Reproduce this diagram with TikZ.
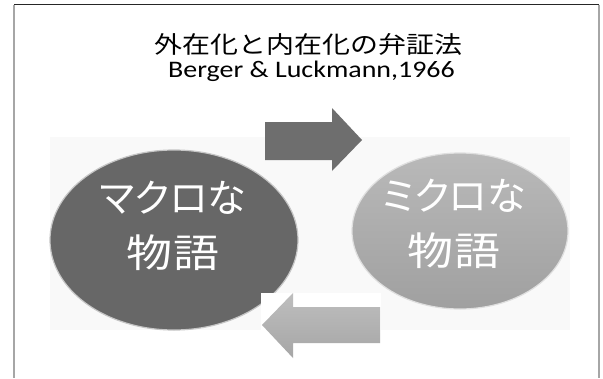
\documentclass[tikz,border=0pt]{standalone}
\usepackage{fontspec}
\usetikzlibrary{shapes.geometric}
\newfontfamily\jpfont[FakeStretch=1.18]{Noto Sans CJK JP}
\newfontfamily\jppropfont[FakeStretch=1.0, CharacterWidth=AlternateProportional]{Noto Sans CJK JP}
\newfontfamily\latfont[FakeStretch=1.18]{Carlito}
\definecolor{darkell}{HTML}{676767}
\definecolor{lightelltop}{HTML}{B9B9B9}
\definecolor{lightellbot}{HTML}{A0A0A0}
\definecolor{arrowdark}{HTML}{6E6E6E}
\definecolor{arrowlighttop}{HTML}{BEBEBE}
\definecolor{arrowlightbot}{HTML}{A6A6A6}
\definecolor{bgfaint}{HTML}{F9F9F9}
\tikzset{
  ellbox/.style={ellipse, inner sep=0pt},
  elltext/.style={text=white, align=center, font=\jpfont\fontsize{39}{55}\selectfont, inner sep=0pt},
  framepen/.style={line width=1.6pt},
}
\begin{document}
\begin{tikzpicture}[x={(1pt,0)}, y={(0,-1pt)}]
\useasboundingbox (0,0) rectangle (603,378);
\fill[white] (0,0) rectangle (603,378);
% faint picture background
\fill[bgfaint] (50,137) rectangle (570,330);
% ellipses
\node[ellbox, fill=darkell, draw=gray!45, line width=1.2pt, minimum width=248pt, minimum height=180pt] (macro) at (174,240) {};
\node[ellbox, top color=lightelltop, bottom color=lightellbot, draw=gray!25, line width=1.2pt, minimum width=216pt, minimum height=156pt] (micro) at (460,231) {};
% top arrow (right)
\fill[arrowdark] (265,122) -- (332,122) -- (332,108) -- (362,140) -- (332,171) -- (332,160) -- (265,160) -- cycle;
% white box behind bottom arrow
\fill[white] (261,293) rectangle (381,378);
% bottom arrow (left)
\shade[top color=arrowlighttop, bottom color=arrowlightbot] (380,307) -- (293,307) -- (293,293) -- (262,325) -- (293,358) -- (293,343) -- (380,343) -- cycle;
% texts
\node[elltext] (macrotext) at (173,226) {{\jppropfont マクロな}\\物語};
\node[elltext] (microtext) at (454,224) {{\jppropfont ミクロな}\\物語};
\node[font=\jpfont\fontsize{23.7}{28}\selectfont, inner sep=0pt] (title) at (308.5,44) {外在化と内在化の弁証法};
\node[font=\latfont\fontsize{23.7}{28}\selectfont, inner sep=0pt, anchor=base] (sub) at (311.5,77) {Berger \& Luckmann,1966};
% frame
\coordinate (tl) at (14,4.5);
\coordinate (tr) at (599,4.5);
\coordinate (bl) at (14,378);
\coordinate (br) at (599,378);
\draw[framepen, gray!70] (tl) -- (bl);
\draw[framepen, gray!70] (tr) -- (br);
\draw[framepen, black!85] (tl) -- (tr);
\end{tikzpicture}
\end{document}
